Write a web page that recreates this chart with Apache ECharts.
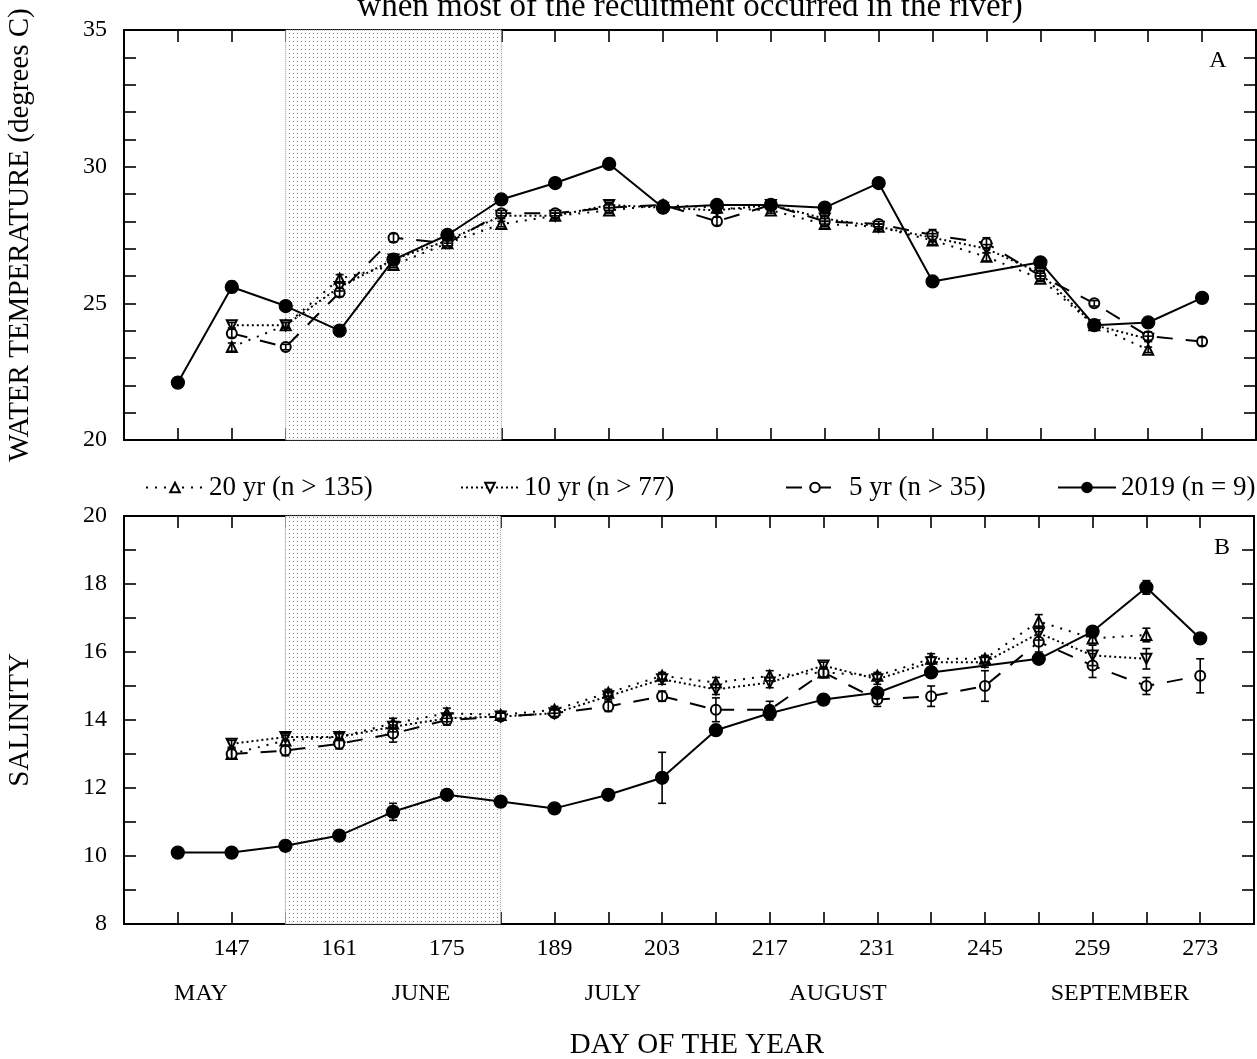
<!DOCTYPE html>
<html>
<head>
<meta charset="utf-8">
<script src="https://cdn.jsdelivr.net/npm/echarts@6/dist/echarts.min.js"></script>
<style>
html,body{margin:0;padding:0;background:#fff;}
#chart{width:1257px;height:1059px;}
</style>
</head>
<body>
<div id="chart"></div>
<script>
// ---------- DATA ----------
const seriesNames = ['20 yr (n > 135)', '10 yr (n > 77)', '5 yr (n > 35)', '2019 (n = 9)'];
const xTickLabels = [147, 161, 175, 189, 203, 217, 231, 245, 259, 273];
const monthLabels = ['MAY', 'JUNE', 'JULY', 'AUGUST', 'SEPTEMBER'];
const shadeDays = [154, 182];

// days sampled
const days2019 = [140,147,154,161,168,175,182,189,196,203,210,217,224,231,238,252,259,266,273];
const daysLT   = [147,154,161,168,175,182,189,196,203,210,217,224,231,238,245,252,259,266];
const days5yr  = [147,154,161,168,175,182,189,196,203,210,217,224,231,238,245,252,259,266,273];

// Panel A: water temperature
const temp2019    = [22.1,25.6,24.9,24.0,26.6,27.5,28.8,29.4,30.1,28.5,28.6,28.6,28.5,29.4,25.8,26.5,24.2,24.3,25.2];
const temp2019Err = [0.15,0.2,0.1,0.1,0.15,0.1,0.05,0.15,0.15,0.1,0.1,0.15,0.05,0.05,0.1,0.05,0.1,0.05,0.05];
const temp20      = [23.4,24.2,25.9,26.4,27.2,27.9,28.2,28.4,28.6,28.5,28.4,27.9,27.8,27.3,26.7,25.9,24.2,23.3];
const temp20Err   = [0.15,0.1,0.15,0.1,0.1,0.1,0.1,0.1,0.1,0.1,0.1,0.1,0.1,0.15,0.15,0.1,0.1,0.1];
const temp10      = [24.2,24.2,25.6,26.6,27.3,28.2,28.2,28.6,28.5,28.4,28.6,28.1,27.8,27.4,27.0,26.1,24.2,23.7];
const temp10Err   = [0.1,0.1,0.15,0.1,0.1,0.1,0.1,0.1,0.1,0.1,0.1,0.1,0.1,0.15,0.15,0.1,0.1,0.1];
const temp5       = [23.9,23.4,25.4,27.4,27.2,28.3,28.3,28.5,28.6,28.0,28.6,28.0,27.9,27.5,27.2,26.0,25.0,23.8,23.6];
const temp5Err    = [0.15,0.1,0.15,0.15,0.1,0.1,0.1,0.1,0.1,0.15,0.15,0.1,0.1,0.2,0.2,0.1,0.1,0.15,0.15];

// Panel B: salinity
const sal2019    = [10.1,10.1,10.3,10.6,11.3,11.8,11.6,11.4,11.8,12.3,13.7,14.2,14.6,14.8,15.4,15.8,16.6,17.9,16.4];
const sal2019Err = [0.1,0.05,0.15,0.1,0.25,0.05,0.05,0.05,0.15,0.75,0.15,0.2,0.05,0.1,0.1,0.1,0.05,0.2,0.1];
const sal20      = [13.0,13.4,13.5,13.9,14.2,14.15,14.3,14.8,15.3,15.1,15.3,15.4,15.3,15.8,15.8,16.9,16.4,16.5];
const sal20Err   = [0.15,0.15,0.1,0.15,0.15,0.1,0.1,0.1,0.1,0.15,0.15,0.15,0.1,0.15,0.1,0.2,0.15,0.2];
const sal10      = [13.3,13.5,13.5,13.8,14.05,14.1,14.2,14.7,15.2,14.9,15.1,15.6,15.2,15.7,15.7,16.55,15.9,15.8];
const sal10Err   = [0.1,0.1,0.1,0.15,0.1,0.1,0.1,0.1,0.15,0.15,0.15,0.1,0.15,0.15,0.15,0.2,0.3,0.3];
const sal5       = [13.0,13.1,13.3,13.6,14.0,14.1,14.2,14.4,14.7,14.3,14.3,15.4,14.6,14.7,15.0,16.3,15.6,15.0,15.3];
const sal5Err    = [0.15,0.15,0.15,0.25,0.15,0.1,0.1,0.15,0.15,0.35,0.25,0.15,0.2,0.3,0.45,0.3,0.35,0.25,0.5];

// ---------- CHART ----------
const FONT = 'Liberation Serif';
const pair = (d, v) => d.map((x, i) => [x, v[i]]);
const triple = (d, v, e) => d.map((x, i) => [x, v[i], e[i]]);

const chart = echarts.init(document.getElementById('chart'), null, {renderer: 'canvas'});

// stipple pattern for the shaded period
const pat = document.createElement('canvas');
pat.width = 4; pat.height = 4;
const pctx = pat.getContext('2d');
pctx.fillStyle = '#fff'; pctx.fillRect(0, 0, 4, 4);
pctx.fillStyle = '#808080'; pctx.fillRect(1, 1, 1, 1);

const styles = [
  {symbol: 'emptyTriangle', rotate: 0,   size: 10, line: {type: [2, 7], width: 2}},
  {symbol: 'emptyTriangle', rotate: 180, size: 10, line: {type: [2, 3], width: 2}},
  {symbol: 'emptyCircle',   rotate: 0,   size: 10, line: {type: [16, 13], width: 2}},
  {symbol: 'circle',        rotate: 0,   size: 13, line: {type: 'solid', width: 2}}
];

function errRender(params, api) {
  const x = api.value(0), y = api.value(1), e = api.value(2);
  const hi = api.coord([x, y + e]), lo = api.coord([x, y - e]);
  const w = 4;
  const st = {stroke: '#000', lineWidth: 1.6};
  return {type: 'group', children: [
    {type: 'line', shape: {x1: hi[0], y1: hi[1], x2: lo[0], y2: lo[1]}, style: st},
    {type: 'line', shape: {x1: hi[0] - w, y1: hi[1], x2: hi[0] + w, y2: hi[1]}, style: st},
    {type: 'line', shape: {x1: lo[0] - w, y1: lo[1], x2: lo[0] + w, y2: lo[1]}, style: st}
  ]};
}

function lineSeries(idx, name, data, axis, withArea) {
  const s = styles[idx];
  const o = {
    type: 'line', name: name, data: data,
    xAxisIndex: axis * 2, yAxisIndex: axis * 2,
    symbol: s.symbol, symbolRotate: s.rotate, symbolSize: s.size,
    showAllSymbol: true,
    itemStyle: {color: '#000', borderColor: '#000', borderWidth: 1.3},
    lineStyle: {color: '#000', width: s.line.width, type: s.line.type},
    z: 2 + idx * 0.1, animation: false, silent: true
  };
  if (withArea) {
    o.markArea = {
      silent: true,
      itemStyle: {color: {image: pat, repeat: 'repeat'}, borderColor: '#999', borderWidth: 1, borderType: 'dotted'},
      data: [[{xAxis: shadeDays[0]}, {xAxis: shadeDays[1]}]]
    };
  }
  return o;
}
function errSeries(data, axis) {
  return {type: 'custom', data: data, renderItem: errRender,
    xAxisIndex: axis * 2, yAxisIndex: axis * 2,
    encode: {x: 0, y: 1}, z: 5, animation: false, silent: true};
}

const axisLine = {show: true, lineStyle: {color: '#000', width: 2}};
const tick = {show: true, inside: true, length: 12, lineStyle: {color: '#000', width: 1.6}};

function xAxes(gridIndex, showLabels) {
  return [
    {type: 'value', gridIndex: gridIndex, position: 'bottom', min: 133, max: 280, interval: 7,
     axisLine: axisLine, axisTick: tick, splitLine: {show: false},
     axisLabel: {show: showLabels, margin: 13, color: '#000', fontFamily: FONT, fontSize: 24,
       formatter: v => xTickLabels.indexOf(v) >= 0 ? String(v) : ''}},
    {type: 'value', gridIndex: gridIndex, position: 'top', min: 133, max: 280, interval: 7,
     axisLine: axisLine, axisTick: tick, splitLine: {show: false}, axisLabel: {show: false}}
  ];
}
function yAxes(gridIndex, min, max, labelEvery) {
  return [
    {type: 'value', gridIndex: gridIndex, position: 'left', min: min, max: max, interval: 1,
     axisLine: axisLine, axisTick: tick, splitLine: {show: false},
     axisLabel: {margin: 17, color: '#000', fontFamily: FONT, fontSize: 24,
       formatter: v => (v % labelEvery === 0) ? String(v) : ''}},
    {type: 'value', gridIndex: gridIndex, position: 'right', min: min, max: max, interval: 1,
     axisLine: axisLine, axisTick: tick, splitLine: {show: false}, axisLabel: {show: false}}
  ];
}

const legendTop = 469;
const legendLefts = [140, 455, 780, 1052];
const legendWidths = [58, 58, 58, 58];
const legends = seriesNames.map((n, i) => ({
  data: [n], left: legendLefts[i], top: legendTop, itemWidth: legendWidths[i], itemHeight: 12,
  selectedMode: false,
  textStyle: {color: '#000', fontFamily: FONT, fontSize: 27}
}));

const monthX = [201, 421, 613, 838, 1120];
const txt = (t, x, y, size, rot) => ({type: 'text', x: x, y: y, rotation: rot || 0,
  style: {text: t, font: size + 'px "Liberation Serif"', fill: '#000', align: 'center', verticalAlign: 'middle'}});
const graphics = [
  txt('when most of the recuitment occurred in the river)', 690, 7, 33),
  txt('WATER TEMPERATURE (degrees C)', 20, 235, 29, Math.PI / 2),
  txt('SALINITY', 20, 720, 29, Math.PI / 2),
  txt('A', 1218, 61, 24),
  txt('B', 1222, 548, 24),
  txt('DAY OF THE YEAR', 697, 1045, 29)
].concat(monthLabels.map((m, i) => txt(m, monthX[i], 994, 24)));

const option = {
  backgroundColor: '#fff',
  animation: false,
  textStyle: {fontFamily: FONT},
  grid: [
    {left: 124, right: 1, top: 30, height: 410},
    {left: 124, right: 1, top: 516, height: 408}
  ],
  xAxis: [...xAxes(0, false), ...xAxes(1, true)],
  yAxis: [...yAxes(0, 20, 35, 5), ...yAxes(1, 8, 20, 2)],
  legend: legends,
  graphic: graphics,
  series: [
    lineSeries(0, seriesNames[0], pair(daysLT, temp20), 0, true),
    lineSeries(1, seriesNames[1], pair(daysLT, temp10), 0, false),
    lineSeries(2, seriesNames[2], pair(days5yr, temp5), 0, false),
    lineSeries(3, seriesNames[3], pair(days2019, temp2019), 0, false),
    errSeries(triple(daysLT, temp20, temp20Err), 0),
    errSeries(triple(daysLT, temp10, temp10Err), 0),
    errSeries(triple(days5yr, temp5, temp5Err), 0),
    errSeries(triple(days2019, temp2019, temp2019Err), 0),
    lineSeries(0, seriesNames[0], pair(daysLT, sal20), 1, true),
    lineSeries(1, seriesNames[1], pair(daysLT, sal10), 1, false),
    lineSeries(2, seriesNames[2], pair(days5yr, sal5), 1, false),
    lineSeries(3, seriesNames[3], pair(days2019, sal2019), 1, false),
    errSeries(triple(daysLT, sal20, sal20Err), 1),
    errSeries(triple(daysLT, sal10, sal10Err), 1),
    errSeries(triple(days5yr, sal5, sal5Err), 1),
    errSeries(triple(days2019, sal2019, sal2019Err), 1)
  ]
};
chart.setOption(option);
</script>
</body>
</html>
